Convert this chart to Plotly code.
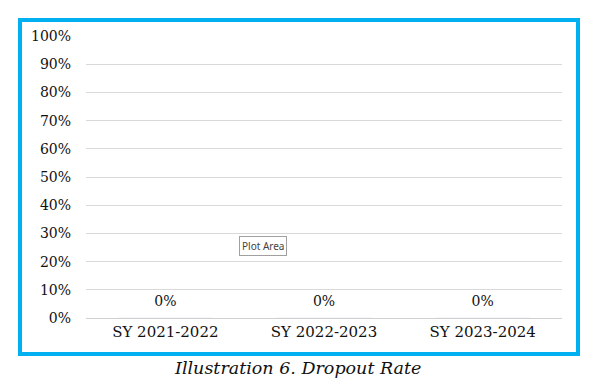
import plotly.graph_objects as go

categories = ["SY 2021-2022", "SY 2022-2023", "SY 2023-2024"]
dropout_rate = [0.0, 0.0, 0.0]
value_labels = ["0%", "0%", "0%"]
y_ticks = [0.0, 0.1, 0.2, 0.3, 0.4, 0.5, 0.6, 0.7, 0.8, 0.9, 1.0]
y_tick_labels = ["0%", "10%", "20%", "30%", "40%", "50%", "60%", "70%", "80%", "90%", "100%"]
caption = "Illustration 6. Dropout Rate"

SERIF = "DejaVu Serif"

fig = go.Figure()
fig.add_trace(go.Bar(
    x=categories, y=dropout_rate,
    marker=dict(color="#5B9BD5"),
    width=0.6, showlegend=False, hoverinfo="skip",
))
fig.add_trace(go.Scatter(
    x=categories, y=dropout_rate, mode="markers+text",
    marker=dict(size=12, color="rgba(0,0,0,0)"),
    text=value_labels, textposition="top center",
    textfont=dict(family=SERIF, size=14, color="#111111"),
    showlegend=False, hoverinfo="skip", cliponaxis=False,
))

fig.update_layout(
    width=592, height=382,
    margin=dict(l=78, r=38, t=28, b=72),
    paper_bgcolor="white", plot_bgcolor="white",
    font=dict(family=SERIF, size=14, color="#111111"),
    xaxis=dict(
        showgrid=False, showline=True, linecolor="#d0d0d0", linewidth=1,
        ticks="", tickfont=dict(family=SERIF, size=15, color="#111111"),
        fixedrange=True,
    ),
    yaxis=dict(
        range=[0, 1], tickvals=y_ticks, ticktext=y_tick_labels,
        showgrid=True, gridcolor="#d9d9d9", gridwidth=1,
        zeroline=False, showline=False, ticks="",
        ticklabelstandoff=14,
        tickfont=dict(family=SERIF, size=14, color="#111111"),
        fixedrange=True,
    ),
    shapes=[dict(
        type="rect", xref="paper", yref="paper",
        x0=(20 - 86) / 476, x1=(578 - 86) / 476,
        y0=(318 - 354) / 282, y1=(318 - 20) / 282,
        line=dict(color="#00B0F0", width=4), fillcolor="rgba(0,0,0,0)",
        layer="above",
    )],
    annotations=[
        dict(
            text=caption, xref="paper", yref="paper",
            x=(297 - 86) / 476, y=(318 - 368) / 282,
            xanchor="center", yanchor="middle", showarrow=False,
            font=dict(family=SERIF, size=17.5, color="#111111", style="italic"),
        ),
        dict(
            text="Plot Area", xref="paper", yref="paper",
            x=(263 - 86) / 476, y=(318 - 246) / 282,
            xanchor="center", yanchor="middle", showarrow=False,
            font=dict(family="Noto Sans", size=10, color="#444444"),
            bgcolor="#ffffff", bordercolor="#a0a0a0", borderwidth=1, borderpad=2,
        ),
    ],
)

fig.write_html("out.html")
